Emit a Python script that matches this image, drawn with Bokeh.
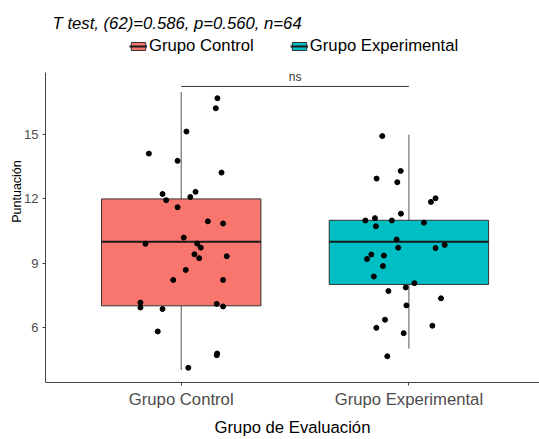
from bokeh.plotting import figure
from bokeh.models import FixedTicker, Legend, LegendItem, Label, Range1d
from bokeh.embed import file_html
from bokeh.resources import INLINE

# ---------------- data ----------------
groups = ["Grupo Control", "Grupo Experimental"]
group_pos = [1, 2]
fills = ["#F8766D", "#00BFC4"]

box_lower = [4, 5]
box_q1 = [7, 8]
box_median = [10, 10]
box_q3 = [12, 11]
box_upper = [17, 15]

control_jitter = [0.159, 0.152, 0.023, -0.142, -0.016, 0.177, -0.082, 0.063,
                  -0.066, 0.040, -0.016, 0.117, 0.184, 0.011, -0.157, 0.070,
                  0.086, 0.058, 0.079, 0.200, 0.020, -0.035, 0.184, -0.179,
                  -0.179, -0.082, 0.156, 0.184, -0.103, 0.158, 0.156, 0.031]
control_values = [16.71, 16.24, 15.15, 14.12, 13.78, 13.23, 12.23, 12.33,
                  11.94, 12.09, 11.61, 10.95, 10.85, 10.19, 9.90, 9.91,
                  9.72, 9.41, 9.23, 9.32, 8.68, 8.21, 8.21, 7.15,
                  6.92, 6.85, 7.09, 6.97, 5.80, 4.77, 4.69, 4.10]

exper_jitter = [-0.117, -0.036, -0.142, -0.051, 0.117, 0.097, -0.035, -0.191,
                -0.149, -0.075, 0.066, -0.145, -0.054, -0.047, 0.117, 0.157,
                -0.165, -0.184, -0.110, -0.114, -0.154, 0.024, -0.014, -0.090,
                0.141, -0.011, -0.105, -0.143, 0.103, -0.023, -0.095]
exper_values = [14.94, 13.31, 12.95, 12.78, 12.03, 11.86, 11.31, 10.99,
                11.10, 10.99, 10.89, 10.72, 10.10, 9.72, 9.70, 9.85,
                9.40, 9.19, 9.35, 8.86, 8.37, 8.06, 7.86, 7.69,
                7.35, 7.02, 6.35, 5.97, 6.07, 5.72, 4.64]

y_ticks = [6, 9, 12, 15]
title_text = "T test, (62)=0.586, p=0.560, n=64"
signif_label = "ns"
signif_y = 17.26

FONT = "Liberation Sans"

p = figure(width=539, height=439, output_backend="svg", toolbar_location=None,
           x_range=Range1d(0.404, 2.5735), y_range=Range1d(3.413, 21.28),
           min_border_left=45, min_border_right=0, min_border_top=0,
           min_border_bottom=57)
p.outline_line_color = None
p.xgrid.visible = False
p.ygrid.visible = False
p.background_fill_color = "white"

# whiskers
p.segment(x0=group_pos, y0=box_q3, x1=group_pos, y1=box_upper,
          line_color="#555555", line_width=1)
p.segment(x0=group_pos, y0=box_q1, x1=group_pos, y1=box_lower,
          line_color="#555555", line_width=1)

box_r = []
med_r = []
for i in range(len(groups)):
    b = p.vbar(x=[group_pos[i]], width=0.7, bottom=[box_q1[i]], top=[box_q3[i]],
               fill_color=fills[i], line_color="#333333", line_width=1)
    m = p.segment(x0=[group_pos[i] - 0.35], x1=[group_pos[i] + 0.35],
                  y0=[box_median[i]], y1=[box_median[i]],
                  line_color="#1a1a1a", line_width=2)
    box_r.append(b)
    med_r.append(m)

# jittered points
p.scatter(x=[group_pos[0] + j for j in control_jitter], y=control_values,
          size=5, color="black")
p.scatter(x=[group_pos[1] + j for j in exper_jitter], y=exper_values,
          size=5, color="black")

# significance bracket
p.segment(x0=[group_pos[0]], x1=[group_pos[1]], y0=[signif_y], y1=[signif_y],
          line_color="#333333", line_width=1)
p.add_layout(Label(x=(group_pos[0] + group_pos[1]) / 2, y=signif_y + 0.12,
                   text=signif_label, text_align="center",
                   text_baseline="bottom", text_font=FONT,
                   text_font_size="12px", text_color="#333333"))

# title
p.add_layout(Label(x=0.435, y=20.22, text=title_text, text_font=FONT,
                   text_font_size="16.7px", text_font_style="italic",
                   text_baseline="alphabetic", text_color="black"))

# legend
legend = Legend(items=[LegendItem(label=groups[i], renderers=[box_r[i], med_r[i]])
                       for i in range(len(groups))],
                location=(84, 326), orientation="horizontal",
                padding=0, margin=0, spacing=36,
                glyph_width=18, glyph_height=10, label_standoff=2,
                label_height=18,
                label_text_font=FONT, label_text_font_size="16.7px",
                label_text_color="black",
                border_line_color=None, background_fill_alpha=0)
p.add_layout(legend)

# axes
p.xaxis.ticker = FixedTicker(ticks=group_pos)
p.xaxis.major_label_overrides = {group_pos[i]: groups[i] for i in range(len(groups))}
p.xaxis.axis_label = "Grupo de Evaluación"
p.yaxis.ticker = FixedTicker(ticks=y_ticks)
p.yaxis.bounds = (3.413, 17.93)
p.yaxis.axis_label = "Puntuación"

for ax in (p.xaxis, p.yaxis):
    ax.axis_line_color = "#444444"
    ax.axis_line_width = 1
    ax.major_tick_line_color = "#444444"
    ax.major_tick_in = 0
    ax.major_tick_out = 3
    ax.minor_tick_line_color = None
    ax.major_label_text_font = FONT
    ax.major_label_text_color = "#4D4D4D"
    ax.axis_label_text_font = FONT
    ax.axis_label_text_font_style = "normal"
    ax.axis_label_text_color = "black"

p.xaxis.major_label_text_font_size = "16.7px"
p.xaxis.axis_label_text_font_size = "16.7px"
p.xaxis.major_label_standoff = 4
p.xaxis.axis_label_standoff = 6
p.yaxis.major_label_text_font_size = "13px"
p.yaxis.axis_label_text_font_size = "12.5px"
p.yaxis.major_label_standoff = 4
p.yaxis.axis_label_standoff = -3

open("out.html", "w").write(file_html(p, INLINE))
